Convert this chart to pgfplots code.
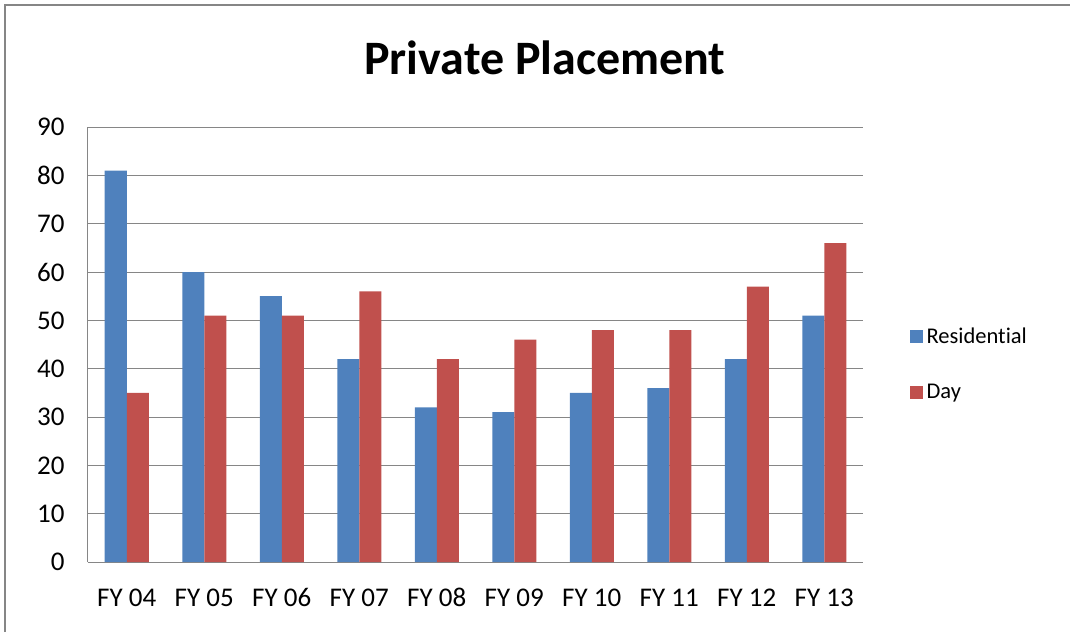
\documentclass[border=0pt]{standalone}
\usepackage{pgfplots}
\pgfplotsset{compat=1.18}
\usepackage{fontspec}
\setmainfont{Carlito}[Ligatures=NoCommon]
\definecolor{resblue}{HTML}{4F81BD}
\definecolor{dayred}{HTML}{C0504D}
\definecolor{gridgray}{HTML}{868686}
\begin{document}
\begin{tikzpicture}[x=1pt,y=1pt]
\useasboundingbox (0,0) rectangle (1070,632);
\draw[gridgray,line width=1.5pt] (5,0) -- (5,627) -- (1070,627);
\node[font=\fontsize{48}{54}\selectfont\bfseries] at (545,574) {Private Placement};
\begin{axis}[
  at={(88pt,70pt)}, anchor=south west,
  scale only axis, width=775pt, height=435pt,
  ybar=0pt, bar width=22pt,
  xmin=-0.5, xmax=9.5, ymin=0, ymax=90,
  ytick={0,10,...,90},
  xtick={0,...,9},
  xticklabels={FY 04,FY 05,FY 06,FY 07,FY 08,FY 09,FY 10,FY 11,FY 12,FY 13},
  major tick length=0pt,
  ymajorgrids, grid style={gridgray,line width=1pt},
  axis line style={gridgray,line width=1pt},
  axis x line*=bottom, axis y line*=left,
  separate axis lines,
  x axis line style={-}, y axis line style={-},
  ticklabel style={font=\fontsize{27}{32}\selectfont},
  /pgf/number format/assume math mode=true,
  yticklabel style={xshift=-20pt},
  xticklabel style={anchor=base, yshift=-44pt},
  legend style={at={(1.056,0.455)}, anchor=west, draw=none, fill=none,
    font=\fontsize{22.5}{27}\selectfont, row sep=35pt},
  legend cell align=left,
  legend image code/.code={\fill (0pt,-6.5pt) rectangle (13pt,6.5pt); \path (15pt,0pt);},
]
\addplot[fill=resblue,draw=none] coordinates {(0,81) (1,60) (2,55) (3,42) (4,32) (5,31) (6,35) (7,36) (8,42) (9,51)};
\addplot[fill=dayred,draw=none] coordinates {(0,35) (1,51) (2,51) (3,56) (4,42) (5,46) (6,48) (7,48) (8,57) (9,66)};
\legend{Residential,Day}
\end{axis}
\end{tikzpicture}
\end{document}
